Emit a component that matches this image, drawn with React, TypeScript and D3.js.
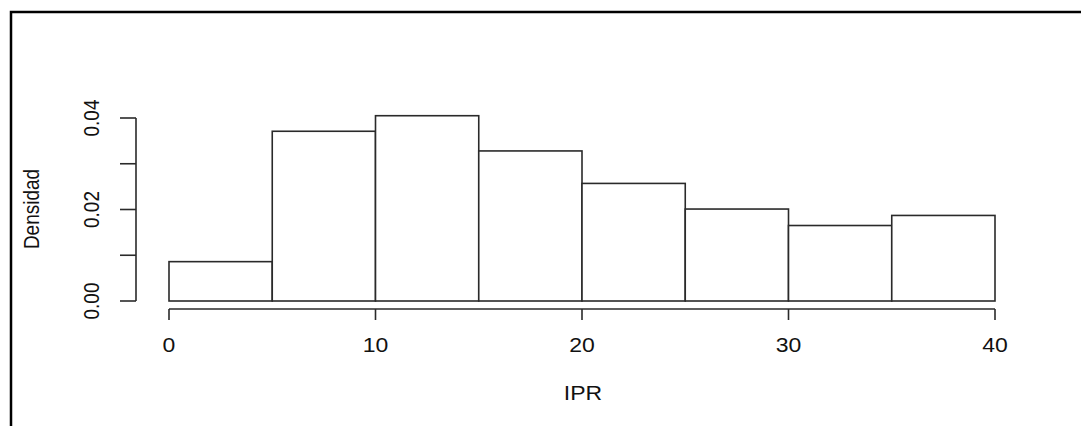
import React from "react";
import * as d3 from "d3";

const binStarts = [0, 5, 10, 15, 20, 25, 30, 35];
const binWidth = 5;
const densities = [0.0086, 0.0371, 0.0405, 0.0328, 0.0257, 0.0201, 0.0165, 0.0187];
const xTicks = [0, 10, 20, 30, 40];
const yTicks = [0, 0.01, 0.02, 0.03, 0.04];
const yTickLabels = ["0.00", "", "0.02", "", "0.04"];
const xLabel = "IPR";
const yLabel = "Densidad";

export default function App() {
  const W = 1081, H = 426;
  const x = d3.scaleLinear().domain([0, 40]).range([169, 995]);
  const y = d3.scaleLinear().domain([0, 0.04]).range([301, 118]);
  const font = "'Liberation Sans', Arial, sans-serif";
  const stroke = "#2a2a2a";
  const axisY = 309;
  const axisX = 136;
  const sx = 1.15;
  return (
    <svg width={W} height={H} style={{ position: "absolute", left: 0, top: 0, background: "#fff" }}>
      <rect x={0} y={0} width={W} height={H} fill="#fff" />
      {/* outer frame */}
      <path d={`M11,${H + 5} L11,12 L${W + 5},12`} fill="none" stroke="#000" strokeWidth={2.5} />
      {/* bars */}
      {binStarts.map((b, i) => (
        <rect
          key={i}
          x={x(b)}
          y={y(densities[i])}
          width={x(b + binWidth) - x(b)}
          height={y(0) - y(densities[i])}
          fill="#fff"
          stroke={stroke}
          strokeWidth={1.6}
        />
      ))}
      {/* x axis */}
      <line x1={x(0)} x2={x(40)} y1={axisY} y2={axisY} stroke={stroke} strokeWidth={1.6} />
      {xTicks.map((t) => (
        <g key={t}>
          <line x1={x(t)} x2={x(t)} y1={axisY} y2={axisY + 11} stroke={stroke} strokeWidth={1.6} />
          <text
            transform={`translate(${x(t)},352) scale(${sx},1)`}
            textAnchor="middle"
            fontFamily={font}
            fontSize={20}
            fill="#111"
          >
            {t}
          </text>
        </g>
      ))}
      {/* y axis */}
      <line x1={axisX} x2={axisX} y1={y(0)} y2={y(0.04)} stroke={stroke} strokeWidth={1.6} />
      {yTicks.map((t, i) => (
        <g key={i}>
          <line x1={axisX - 16} x2={axisX} y1={y(t)} y2={y(t)} stroke={stroke} strokeWidth={1.6} />
          {yTickLabels[i] && (
            <text
              transform={`translate(99,${y(t)}) scale(${sx},1) rotate(-90)`}
              textAnchor="middle"
              fontFamily={font}
              fontSize={19}
              fill="#111"
            >
              {yTickLabels[i]}
            </text>
          )}
        </g>
      ))}
      <text
        transform={`translate(583,400) scale(${sx},1)`}
        textAnchor="middle"
        fontFamily={font}
        fontSize={20}
        fill="#111"
      >
        {xLabel}
      </text>
      <text
        transform={`translate(39,209) scale(${sx},1) rotate(-90)`}
        textAnchor="middle"
        fontFamily={font}
        fontSize={19}
        fill="#111"
      >
        {yLabel}
      </text>
    </svg>
  );
}
